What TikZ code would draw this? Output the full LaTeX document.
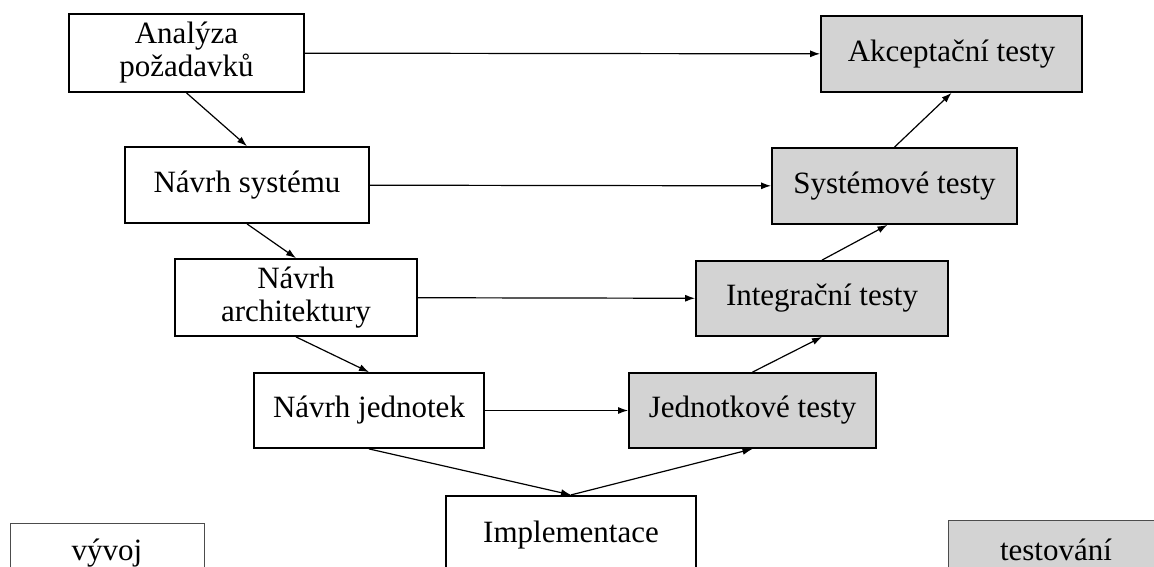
\documentclass[tikz,border=0pt]{standalone}
\usepackage{fontspec}
\setmainfont{Liberation Serif}
\usetikzlibrary{arrows.meta,calc}
\definecolor{testgray}{RGB}{211,211,211}
\tikzset{
  post/.style    = {-{Latex[length=10pt,width=7pt]}, line width=1.2pt},
  pre/.style     = {{Latex[length=10pt,width=7pt]}-, line width=1.2pt},
  phase/.style   = {draw, rectangle, line width=1.8pt, align=center, inner sep=3pt,
                    font=\fontsize{31}{33}\selectfont},
  devel/.style   = {phase, fill=white},
  testing/.style = {phase, fill=testgray},
  legend/.style  = {phase, line width=1pt, draw=black!70}
}

\begin{document}
\begin{tikzpicture}[x=1pt, y=-1pt]
  \clip (0,0) rectangle (1154,566);
  \fill[white] (0,0) rectangle (1154,566);

  % left side: development
  \node[devel, minimum width=235, minimum height=78] (ana)  at (186.5,53)  {Analýza\\požadavků};
  \node[devel, minimum width=244, minimum height=76] (sys)  at (247,185)   {Návrh systému};
  \node[devel, minimum width=242, minimum height=77] (arch) at (296,297.5) {Návrh\\architektury};
  \node[devel, minimum width=230, minimum height=75] (unit) at (369,410.5) {Návrh jednotek};
  \node[devel, line width=2.2pt, minimum width=250, minimum height=78] (impl) at (571,535) {Implementace};

  % right side: testing
  \node[testing, minimum width=261, minimum height=76] (acc) at (951.5,54) {Akceptační testy}
    edge [pre] (ana);
  \node[testing, minimum width=245, minimum height=76] (systest) at (894.5,186) {Systémové testy}
    edge [pre] (sys);
  \node[testing, minimum width=252, minimum height=75] (inttest) at (822,298.5) {Integrační testy}
    edge [pre] (arch);
  \node[testing, minimum width=247, minimum height=75] (unittest) at (752.5,410.5) {Jednotkové testy}
    edge [pre] (unit);

  % down the V and up again
  \draw[post] (ana.south)  -- (sys.north);
  \draw[post] (sys.south)  -- (arch.north);
  \draw[post] (arch.south) -- (unit.north);
  \draw[post] (unit.south) -- (impl.north);
  \draw[post] (impl.north) -- (unittest.south);
  \draw[post] (unittest.north) -- (inttest.south);
  \draw[post] (inttest.north) -- ($(systest.south)+(-7,0)$);
  \draw[post] (systest.north) -- (acc.south);

  % legend
  \node[legend, fill=white, minimum width=194, minimum height=60] (dev)  at (107,553)  {vývoj};
  \node[legend, fill=testgray, minimum width=216, minimum height=60] (test) at (1056,550) {testování};
\end{tikzpicture}
\end{document}
